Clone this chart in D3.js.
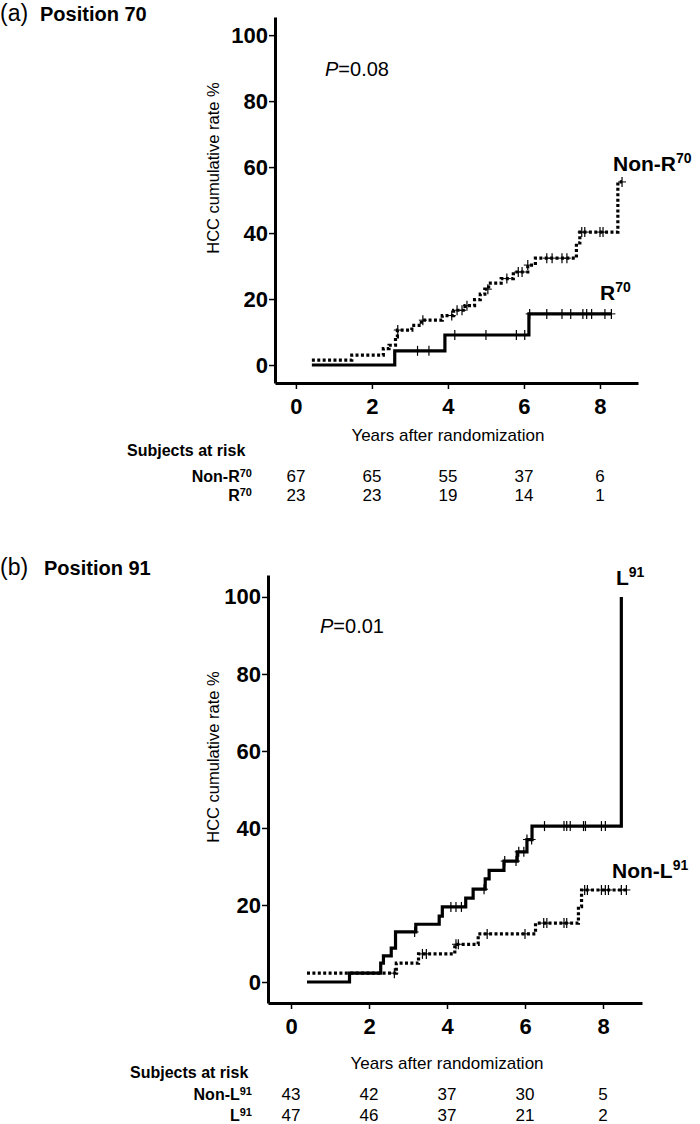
<!DOCTYPE html>
<html lang="en">
<head>
<meta charset="UTF-8">
<title>HCC cumulative rate by position</title>
<style>
  body { margin: 0; background: #fff; }
  svg text { font-family: "Liberation Sans", Arial, sans-serif; fill: #000; }
  .tick-lab { font-size: 22px; font-weight: bold; }
  .axis-title { font-size: 17px; }
  .risk { font-size: 17px; }
  .risk-lab { font-size: 16px; font-weight: bold; }
</style>
</head>
<body>
<div id="chart"></div>
<script src="https://d3js.org/d3.v7.min.js"></script>
<script>
// ---- data ----
const yearTicks = [0, 2, 4, 6, 8];
const rateTicks = [0, 20, 40, 60, 80, 100];

// panel (a) position 70 : [year, cumulative %] step points
const nonR70Steps = [[0.42,1.5],[1.47,3.0],[2.3,5.0],[2.45,6.0],[2.62,8.5],[2.67,10.6],[3.05,12],[3.3,13.6],
  [3.85,15],[4.15,16.6],[4.45,18],[4.7,19.8],[4.85,21.5],[4.97,23],[5.07,24.8],[5.4,26.2],[5.72,28.2],
  [6.1,30.3],[6.3,32.4],[7.38,37],[7.47,40.3],[8.47,55.5]];
const nonR70End = 8.58;
const nonR70Censor = [2.68,3.34,4.1,4.24,4.37,4.5,5.05,5.55,5.85,5.95,6.1,6.6,6.74,7.0,7.13,7.52,7.6,8.0,8.08,8.58];
const r70Steps = [[0.42,0],[2.6,4.3],[3.92,9.1],[6.13,15.5]];
const r70End = 8.3;
const r70Censor = [3.2,3.5,4.18,5.0,5.8,6.02,6.15,6.6,7.0,7.23,7.55,7.65,7.78,8.13,8.3];
const nonR70Risk = [67, 65, 55, 37, 6];
const r70Risk = [23, 23, 19, 14, 1];

// panel (b) position 91
const l91Steps = [[0.41,0],[1.5,2.3],[2.3,4.9],[2.37,6.8],[2.57,8.8],[2.68,13],[3.2,15],[3.8,17.1],[3.88,19.5],
  [4.48,21.8],[4.67,24.1],[4.98,26.8],[5.08,29],[5.46,31.4],[5.8,33.8],[6.05,37],[6.18,40.5],[8.47,100]];
const l91End = 8.47;
const l91Censor = [3.17,4.1,4.23,4.37,4.95,5.48,5.77,5.84,5.97,6.05,6.17,6.5,7.0,7.07,7.16,7.5,7.55,7.96,8.06];
const nonL91Steps = [[0.41,2.3],[2.7,4.9],[3.27,7.3],[4.2,9.8],[4.8,12.5],[6.27,15.3],[7.37,19.6],[7.45,23.9]];
const nonL91End = 8.6;
const nonL91Censor = [2.65,3.37,3.47,4.23,4.29,5.03,6.0,6.48,6.56,7.0,7.07,7.53,7.6,7.96,8.06,8.14,8.47,8.6];
const nonL91Risk = [43, 42, 37, 30, 5];
const l91Risk = [47, 46, 37, 21, 2];

const W = 700, H = 1124;
const svg = d3.select('#chart').append('svg').attr('width', W).attr('height', H);

function stepValue(steps, t) {
  let v = steps[0][1];
  steps.forEach(s => { if (s[0] <= t + 1e-9) v = s[1]; });
  return v;
}

function drawPanel(p) {
  const x = d3.scaleLinear().domain([p.xMin, 9]).range([p.left, p.right]);
  const y = d3.scaleLinear().domain([p.yMin, p.yMax]).range([p.bottom, p.top]);

  // title
  const t = svg.append('text').attr('x', 0).attr('y', p.titleY);
  t.append('tspan').style('font-size', '23px').text(p.letter);
  t.append('tspan').attr('x', p.titleX).style('font-size', '20px').style('font-weight', 'bold').text(p.title);

  // axes
  const yAxis = svg.append('g').attr('transform', `translate(${p.left},0)`)
    .call(d3.axisLeft(y).tickValues(rateTicks).tickSize(6).tickSizeOuter(0).tickPadding(1));
  const xAxis = svg.append('g').attr('transform', `translate(0,${p.bottom})`)
    .call(d3.axisBottom(x).tickValues(yearTicks).tickSize(6).tickSizeOuter(0).tickPadding(5));
  [yAxis, xAxis].forEach(g => {
    g.select('.domain').attr('stroke', '#000').attr('stroke-width', 3);
    g.selectAll('.tick line').attr('stroke', '#000').attr('stroke-width', 1.5);
    g.selectAll('.tick text').attr('class', 'tick-lab').attr('font-family', null).attr('font-size', null);
  });
  xAxis.selectAll('.tick text').attr('dy', '0.9em');

  svg.append('text').attr('class', 'axis-title')
    .attr('transform', `translate(219,${p.yTitleCy}) rotate(-90)`)
    .attr('text-anchor', 'middle').style('font-size', '16.5px').text('HCC cumulative rate %');
  svg.append('text').attr('class', 'axis-title').attr('x', x(4)).attr('y', p.xTitleY)
    .attr('text-anchor', 'middle').text('Years after randomization');

  // P value
  const pv = svg.append('text').attr('x', p.pX).attr('y', p.pY).style('font-size', '20px');
  pv.append('tspan').style('font-style', 'italic').text('P');
  pv.append('tspan').text('=' + p.pText);

  // curves
  const line = d3.line().x(d => x(d[0])).y(d => y(d[1])).curve(d3.curveStepAfter);
  p.series.forEach(s => {
    const pts = s.steps.concat([[s.end, s.steps[s.steps.length - 1][1]]]);
    svg.append('path').attr('d', line(pts)).attr('fill', 'none').attr('stroke', '#000')
      .attr('stroke-width', 3.2).attr('stroke-dasharray', s.dotted ? '3,2.4' : null);
    svg.append('g').selectAll('g').data(s.censor).join('g')
      .attr('transform', d => `translate(${x(d)},${y(stepValue(s.steps, d))})`)
      .each(function () {
        const g = d3.select(this);
        g.append('line').attr('y1', -5).attr('y2', 5).attr('stroke', '#000').attr('stroke-width', 1.2);
        g.append('line').attr('x1', -4).attr('x2', 4).attr('stroke', '#000').attr('stroke-width', 1);
      });
    const lab = svg.append('text').attr('x', s.labX).attr('y', s.labY)
      .style('font-size', '21px').style('font-weight', 'bold');
    lab.append('tspan').text(s.name);
    lab.append('tspan').attr('dy', -8).style('font-size', '14px').text(s.sup);
  });

  // risk table
  svg.append('text').attr('class', 'risk-lab').attr('x', p.subjX).attr('y', p.subjY).text('Subjects at risk');
  p.risk.forEach((r, i) => {
    const yy = p.riskY[i];
    const lab = svg.append('text').attr('class', 'risk-lab').attr('x', 252).attr('y', yy).attr('text-anchor', 'end');
    lab.append('tspan').text(r.name);
    lab.append('tspan').attr('dy', -5).style('font-size', '11px').text(r.sup);
    svg.append('g').selectAll('text').data(r.values).join('text')
      .attr('class', 'risk').attr('x', (d, j) => x(yearTicks[j])).attr('y', yy)
      .attr('text-anchor', 'middle').text(d => d);
  });
}

drawPanel({
  letter: '(a)', title: 'Position 70', titleX: 40, titleY: 21,
  left: 275, right: 638, xMin: -0.55, top: 17, bottom: 383, yMin: -5.45, yMax: 105.5,
  yTitleCy: 168, xTitleY: 441, pX: 325, pY: 76, pText: '0.08',
  series: [
    { steps: nonR70Steps, end: nonR70End, censor: nonR70Censor, dotted: true, name: 'Non-R', sup: '70', labX: 613, labY: 171 },
    { steps: r70Steps, end: r70End, censor: r70Censor, dotted: false, name: 'R', sup: '70', labX: 600, labY: 300 }
  ],
  subjX: 127, subjY: 456,
  riskY: [482, 501],
  risk: [{ name: 'Non-R', sup: '70', values: nonR70Risk }, { name: 'R', sup: '70', values: r70Risk }]
});

drawPanel({
  letter: '(b)', title: 'Position 91', titleX: 44, titleY: 575,
  left: 268, right: 642, xMin: -0.59, top: 575, bottom: 1003, yMin: -5.45, yMax: 105.7,
  yTitleCy: 757, xTitleY: 1069, pX: 320, pY: 633, pText: '0.01',
  series: [
    { steps: l91Steps, end: l91End, censor: l91Censor, dotted: false, name: 'L', sup: '91', labX: 616, labY: 585 },
    { steps: nonL91Steps, end: nonL91End, censor: nonL91Censor, dotted: true, name: 'Non-L', sup: '91', labX: 612, labY: 878 }
  ],
  subjX: 130, subjY: 1078,
  riskY: [1100, 1121],
  risk: [{ name: 'Non-L', sup: '91', values: nonL91Risk }, { name: 'L', sup: '91', values: l91Risk }]
});
</script>
</body>
</html>
